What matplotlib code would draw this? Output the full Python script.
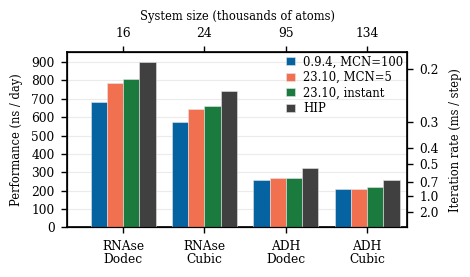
import numpy as np
import matplotlib
matplotlib.use("Agg")
import matplotlib.pyplot as plt

# data
systems = ["RNAse\nDodec", "RNAse\nCubic", "ADH\nDodec", "ADH\nCubic"]
system_sizes = ["16", "24", "95", "134"]
series_names = ["0.9.4, MCN=100", "23.10, MCN=5", "23.10, instant", "HIP"]
perf_094 = [682, 574, 256, 209]
perf_2310_mcn5 = [785, 645, 267, 207]
perf_2310_instant = [807, 663, 267, 218]
perf_hip = [898, 743, 323, 258]
rate_ticks = [0.2, 0.3, 0.4, 0.5, 0.7, 1.0, 2.0]

# 2 fs timestep: ns/day = 172.8 / (ms/step)
NS_DAY_PER_RATE = 172.8

colors = ["#0563a1", "#f07050", "#1b7a3e", "#404040"]

plt.rcParams["font.family"] = "DejaVu Serif"
plt.rcParams["font.size"] = 8.3

fig = plt.figure(figsize=(4.7, 2.77), dpi=100)
ax = fig.add_axes([0.1426, 0.179, 0.7234, 0.632])

series = [perf_094, perf_2310_mcn5, perf_2310_instant, perf_hip]
x = np.arange(len(systems))
width = 0.2
for i, (vals, name) in enumerate(zip(series, series_names)):
    ax.bar(x + (i - 1.5) * width, vals, width, color=colors[i], label=name,
           edgecolor="#e6e6e6", linewidth=0.4, zorder=3)

ax.set_xlim(-0.69, 3.49)
ax.set_ylim(0, 953)
ax.set_yticks(np.arange(0, 901, 100))
ax.set_xticks(x)
ax.set_xticklabels(systems, linespacing=1.05)
ax.set_ylabel("Performance (ns / day)", labelpad=6)
ax.grid(axis="y", color="#ebebeb", linewidth=0.8, zorder=0)
ax.set_axisbelow(True)
for s in ax.spines.values():
    s.set_linewidth(1.2)
tick_kw = dict(length=4, width=1.0, pad=5, labelsize=8.8)
ax.tick_params(**tick_kw)

ax.legend(loc="upper right", frameon=False, handlelength=0.7, handleheight=0.7,
          handletextpad=0.75, labelspacing=0.22, borderaxespad=0.0,
          borderpad=0.25, fontsize=8.4, bbox_to_anchor=(0.998, 1.0))

ax_top = ax.twiny()
ax_top.set_xlim(ax.get_xlim())
ax_top.set_xticks(x)
ax_top.set_xticklabels(system_sizes)
ax_top.set_xlabel("System size (thousands of atoms)", labelpad=5)
ax_top.tick_params(**tick_kw)

ax_right = ax.twinx()
ax_right.set_ylim(ax.get_ylim())
ax_right.set_yticks([NS_DAY_PER_RATE / r for r in rate_ticks])
ax_right.set_yticklabels([f"{r:.1f}" for r in rate_ticks])
ax_right.set_ylabel("Iteration rate (ms / step)", labelpad=7)
ax_right.tick_params(**tick_kw)

fig.savefig("out.png", dpi=100)
